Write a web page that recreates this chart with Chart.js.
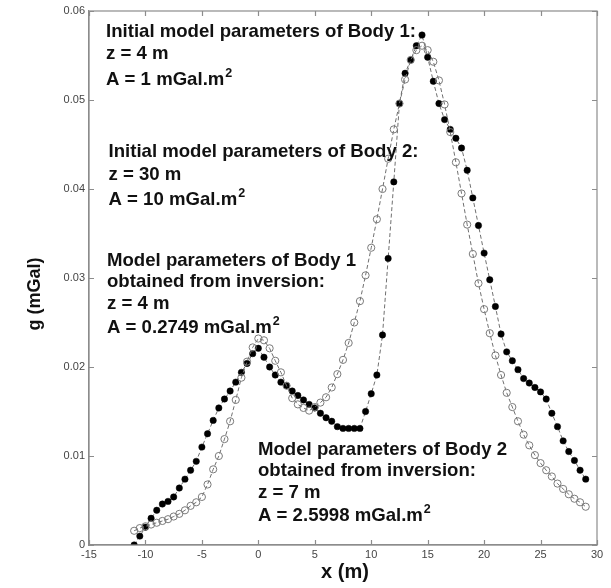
<!DOCTYPE html>
<html>
<head>
<meta charset="utf-8">
<title>g (mGal) against x (m)</title>
<script src="https://cdn.jsdelivr.net/npm/chart.js@4"></script>
<style>
  html, body { margin: 0; padding: 0; background: #fff; }
  #wrap { position: relative; width: 611px; height: 588px; }
</style>
</head>
<body>
<div id="wrap"><canvas id="gravityChart"></canvas></div>
<script>
// station positions along the profile (m)
const xPositions = [
  -11, -10.5, -10, -9.5, -9, -8.5, -8, -7.5, -7, -6.5,
  -6, -5.5, -5, -4.5, -4, -3.5, -3, -2.5, -2, -1.5,
  -1, -0.5, 0, 0.5, 1, 1.5, 2, 2.5, 3, 3.5,
  4, 4.5, 5, 5.5, 6, 6.5, 7, 7.5, 8, 8.5,
  9, 9.5, 10, 10.5, 11, 11.5, 12, 12.5, 13, 13.5,
  14, 14.5, 15, 15.5, 16, 16.5, 17, 17.5, 18, 18.5,
  19, 19.5, 20, 20.5, 21, 21.5, 22, 22.5, 23, 23.5,
  24, 24.5, 25, 25.5, 26, 26.5, 27, 27.5, 28, 28.5,
  29
];

// filled dots (mGal)
const solidDots = [
  0.0000, 0.0010, 0.0020, 0.0030, 0.0039, 0.0046, 0.0049, 0.0054, 0.0064, 0.0074,
  0.0084, 0.0094, 0.0110, 0.0125, 0.0140, 0.0154, 0.0164, 0.0173, 0.0183, 0.0194,
  0.0204, 0.0215, 0.0221, 0.0211, 0.0200, 0.0191, 0.0183, 0.0179, 0.0173, 0.0168,
  0.0163, 0.0158, 0.0154, 0.0148, 0.0143, 0.0139, 0.0133, 0.0131, 0.0131, 0.0131,
  0.0131, 0.0150, 0.0170, 0.0191, 0.0236, 0.0322, 0.0408, 0.0496, 0.0530, 0.0545,
  0.0561, 0.0573, 0.0548, 0.0521, 0.0496, 0.0478, 0.0467, 0.0457, 0.0446, 0.0421,
  0.0390, 0.0359, 0.0328, 0.0298, 0.0268, 0.0237, 0.0217, 0.0207, 0.0197, 0.0187,
  0.0182, 0.0177, 0.0172, 0.0164, 0.0148, 0.0133, 0.0117, 0.0105, 0.0095, 0.0084,
  0.0074
];

// hollow dots (mGal)
const hollowDots = [
  0.0016, 0.0019, 0.0021, 0.0023, 0.0025, 0.0027, 0.0029, 0.0032, 0.0035, 0.0039,
  0.0044, 0.0048, 0.0054, 0.0068, 0.0085, 0.0100, 0.0119, 0.0139, 0.0163, 0.0188,
  0.0206, 0.0222, 0.0232, 0.0230, 0.0221, 0.0207, 0.0194, 0.0179, 0.0165, 0.0158,
  0.0154, 0.0151, 0.0155, 0.0160, 0.0166, 0.0177, 0.0192, 0.0208, 0.0227, 0.0250,
  0.0274, 0.0303, 0.0334, 0.0366, 0.0400, 0.0434, 0.0467, 0.0496, 0.0523, 0.0545,
  0.0556, 0.0561, 0.0556, 0.0543, 0.0522, 0.0495, 0.0464, 0.0430, 0.0395, 0.0360,
  0.0327, 0.0294, 0.0265, 0.0238, 0.0213, 0.0191, 0.0171, 0.0155, 0.0139, 0.0124,
  0.0112, 0.0101, 0.0092, 0.0084, 0.0077, 0.0069, 0.0063, 0.0057, 0.0052, 0.0048,
  0.0043
];

const xTicks = [-15, -10, -5, 0, 5, 10, 15, 20, 25, 30];
const xTickLabels = ['-15', '-10', '-5', '0', '5', '10', '15', '20', '25', '30'];
const yTicks = [0, 0.01, 0.02, 0.03, 0.04, 0.05, 0.06];
const yTickLabels = ['0', '0.01', '0.02', '0.03', '0.04', '0.05', '0.06'];

// "^" marks a superscript
const bodyOneStart = ['Initial model parameters of Body 1:', 'z = 4 m', 'A = 1 mGal.m^2'];
const bodyTwoStart = ['Initial model parameters of Body 2:', 'z = 30 m', 'A = 10 mGal.m^2'];
const bodyOneResult = ['Model parameters of Body 1', 'obtained from inversion:', 'z = 4 m', 'A = 0.2749 mGal.m^2'];
const bodyTwoResult = ['Model parameters of Body 2', 'obtained from inversion:', 'z = 7 m', 'A = 2.5998 mGal.m^2'];

const FONT = "'Liberation Sans', Arial, sans-serif";
const AXIS_GREY = '#8c8c8c';

function points(ys) {
    return xPositions.map((x, i) => ({ x: x, y: ys[i] }));
}

// text blocks, inner tick marks, box and axis titles
const decorations = {
    id: 'decorations',
    afterDraw(chart) {
        const ctx = chart.ctx;
        const area = chart.chartArea;
        const xs = chart.scales.x;
        const ys = chart.scales.y;
        ctx.save();

        // box and inward ticks
        ctx.strokeStyle = AXIS_GREY;
        ctx.lineWidth = 1.2;
        ctx.strokeRect(area.left, area.top, area.right - area.left, area.bottom - area.top);
        ctx.beginPath();
        xs.ticks.forEach(t => {
            const px = Math.round(xs.getPixelForValue(t.value)) + 0.5;
            ctx.moveTo(px, area.bottom); ctx.lineTo(px, area.bottom - 5);
            ctx.moveTo(px, area.top); ctx.lineTo(px, area.top + 5);
        });
        ys.ticks.forEach(t => {
            const py = Math.round(ys.getPixelForValue(t.value)) + 0.5;
            ctx.moveTo(area.left, py); ctx.lineTo(area.left + 5, py);
            ctx.moveTo(area.right, py); ctx.lineTo(area.right - 5, py);
        });
        ctx.stroke();

        // annotations
        ctx.fillStyle = '#111';
        ctx.textAlign = 'left';
        ctx.textBaseline = 'alphabetic';
        const blocks = [
            { lines: bodyOneStart, left: 106, baselines: [36.5, 58.5, 85] },
            { lines: bodyTwoStart, left: 108.5, baselines: [156.5, 180, 205] },
            { lines: bodyOneResult, left: 107, baselines: [266, 287, 308.5, 333] },
            { lines: bodyTwoResult, left: 258, baselines: [454.5, 475.5, 498, 520.5] }
        ];
        blocks.forEach(b => {
            b.lines.forEach((line, i) => {
                const parts = line.split('^');
                ctx.font = 'bold 18.6px ' + FONT;
                ctx.fillText(parts[0], b.left, b.baselines[i]);
                if (parts[1]) {
                    const w = ctx.measureText(parts[0]).width;
                    ctx.font = 'bold 12.5px ' + FONT;
                    ctx.fillText(parts[1], b.left + w + 1, b.baselines[i] - 8);
                }
            });
        });

        // axis titles
        ctx.font = 'bold 20px ' + FONT;
        ctx.textAlign = 'center';
        ctx.fillText('x (m)', 345, 578);
        ctx.translate(35, 294);
        ctx.rotate(-Math.PI / 2);
        ctx.font = 'bold 18px ' + FONT;
        ctx.textBaseline = 'middle';
        ctx.fillText('g (mGal)', 0, 0);
        ctx.restore();
    }
};

new Chart(document.getElementById('gravityChart'), {
    type: 'scatter',
    data: {
        datasets: [
            {
                data: points(hollowDots),
                showLine: true,
                borderColor: '#6f6f6f',
                borderWidth: 1,
                borderDash: [4, 2.5],
                pointRadius: 3.6,
                pointBorderWidth: 1,
                pointBorderColor: '#7a7a7a',
                pointBackgroundColor: 'rgba(255,255,255,0)'
            },
            {
                data: points(solidDots),
                showLine: true,
                borderColor: '#6f6f6f',
                borderWidth: 1,
                borderDash: [4, 2.5],
                pointRadius: 3.2,
                pointBorderWidth: 0.5,
                pointBorderColor: '#000',
                pointBackgroundColor: '#000'
            }
        ]
    },
    options: {
        responsive: true,
        maintainAspectRatio: false,
        animation: false,
        events: [],
        layout: { padding: { top: 11, right: 14, left: 0, bottom: 0 } },
        plugins: { legend: { display: false }, tooltip: { enabled: false } },
        scales: {
            x: {
                type: 'linear',
                min: -15,
                max: 30,
                afterBuildTicks: s => { s.ticks = xTicks.map(v => ({ value: v })); },
                afterFit: s => { s.height = 43; },
                grid: { display: false, drawTicks: false },
                border: { display: true, color: AXIS_GREY, width: 1.2 },
                ticks: {
                    padding: 3,
                    color: '#444',
                    font: { family: FONT, size: 11 },
                    maxRotation: 0,
                    callback: (v, i) => xTickLabels[i]
                }
            },
            y: {
                type: 'linear',
                min: 0,
                max: 0.06,
                afterBuildTicks: s => { s.ticks = yTicks.map(v => ({ value: v })); },
                afterFit: s => { s.width = 89; },
                grid: { display: false, drawTicks: false },
                border: { display: true, color: AXIS_GREY, width: 1.2 },
                ticks: {
                    padding: 4,
                    color: '#444',
                    font: { family: FONT, size: 11 },
                    callback: (v, i) => yTickLabels[i]
                }
            }
        }
    },
    plugins: [decorations]
});
</script>
</body>
</html>
